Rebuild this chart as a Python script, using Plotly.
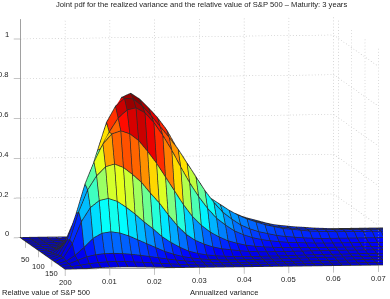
import plotly.graph_objects as go

title_text = "Joint pdf for the realized variance and the relative value of S&amp;P 500 – Maturity: 3 years"
x_label = "Annualized variance"
y_label = "Relative value of S&amp;P 500"

variance = [round(0.002 * c, 3) for c in range(41)]
relative_value = [200, 190, 180, 170, 160, 150, 140, 130, 120, 110, 100, 90, 80, 70, 60, 50, 40, 30]

row_200 = [0,.0005,.002,.004,.006,.007,.008,.008,.007,.006,.005,.004,.003,.002,.002,.001,.001,.001,.001,.001,.001,.001,.001,.001,.001,.001,.001,.001,.001,.001,.001,.001,.001,.001,.001,.001,.001,.001,.001,.001,.001]
row_190 = [0,.003,.01,.017,.022,.025,.026,.025,.023,.02,.017,.014,.011,.008,.006,.004,.003,.002,.002,.002,.002,.002,.002,.002,.003,.003,.003,.003,.003,.004,.004,.004,.004,.004,.005,.005,.005,.005,.005,.005,.005]
row_180 = [0,.008,.025,.042,.052,.057,.058,.056,.052,.046,.04,.033,.026,.02,.015,.011,.008,.006,.005,.004,.004,.004,.004,.005,.005,.006,.006,.007,.007,.008,.008,.009,.009,.01,.01,.011,.011,.011,.011,.011,.011]
row_170 = [0,.012,.04,.08,.125,.15,.157,.15,.135,.115,.095,.075,.055,.04,.028,.02,.015,.011,.009,.008,.008,.008,.008,.009,.009,.01,.011,.012,.013,.014,.014,.015,.015,.016,.016,.016,.016,.016,.016,.016,.016]
row_160 = [0,.02,.09,.2,.27,.305,.315,.3,.27,.235,.195,.16,.12,.09,.065,.045,.033,.025,.02,.017,.015,.014,.014,.014,.015,.015,.016,.017,.018,.019,.02,.02,.02,.021,.021,.021,.022,.022,.022,.022,.022]
row_150 = [0,.02,.1,.24,.35,.42,.465,.478,.46,.425,.385,.33,.28,.22,.165,.12,.09,.07,.055,.045,.04,.034,.03,.028,.027,.027,.027,.028,.028,.029,.029,.03,.03,.03,.03,.03,.03,.03,.03,.03,.03]
row_140 = [0,.015,.09,.22,.37,.48,.57,.62,.635,.62,.585,.53,.47,.4,.33,.26,.2,.155,.12,.095,.075,.062,.052,.046,.042,.04,.038,.037,.036,.036,.036,.036,.036,.036,.036,.037,.037,.037,.037,.037,.037]
row_130 = [0,.01,.065,.17,.31,.43,.535,.62,.69,.73,.74,.715,.665,.6,.525,.44,.36,.29,.23,.18,.145,.115,.095,.08,.07,.063,.058,.054,.052,.05,.049,.048,.048,.048,.048,.048,.048,.048,.048,.048,.048]
row_120 = [0,.006,.04,.12,.24,.38,.52,.66,.74,.78,.775,.74,.69,.635,.58,.52,.45,.38,.31,.25,.2,.165,.135,.115,.1,.09,.08,.074,.07,.066,.064,.062,.062,.062,.062,.062,.062,.062,.062,.062,.062]
row_110 = [0,.003,.02,.07,.16,.28,.42,.56,.7,.775,.795,.765,.72,.67,.61,.53,.44,.36,.3,.26,.23,.2,.175,.155,.14,.125,.115,.105,.1,.095,.09,.088,.086,.085,.085,.085,.085,.085,.085,.085,.085]
row_100 = [0,.001,.01,.035,.09,.17,.28,.42,.57,.67,.735,.745,.72,.675,.61,.52,.415,.35,.3,.26,.225,.195,.17,.15,.13,.12,.11,.103,.098,.093,.09,.088,.087,.086,.085,.085,.085,.085,.085,.085,.085]
row_90 = [0,0,.004,.015,.04,.09,.15,.22,.3,.38,.45,.52,.57,.6,.585,.52,.42,.355,.307,.263,.224,.195,.17,.15,.13,.12,.11,.103,.098,.093,.09,.086,.084,.082,.08,.08,.08,.08,.08,.08,.08]
row_80 = [0,0,.002,.007,.02,.05,.09,.14,.2,.26,.32,.37,.405,.425,.425,.41,.38,.34,.295,.255,.22,.19,.165,.145,.13,.118,.105,.095,.088,.082,.078,.075,.073,.072,.072,.072,.072,.072,.072,.072,.072]
row_70 = [0,0,.001,.003,.008,.02,.04,.065,.095,.13,.165,.2,.225,.245,.255,.255,.245,.23,.21,.19,.17,.15,.13,.115,.1,.09,.082,.076,.072,.068,.065,.064,.063,.063,.063,.063,.063,.063,.063,.063,.063]
row_60 = [0,0,0,.001,.003,.007,.015,.027,.042,.06,.08,.1,.115,.128,.135,.14,.14,.135,.13,.12,.11,.1,.09,.08,.072,.066,.062,.059,.057,.055,.054,.053,.053,.053,.053,.053,.053,.053,.053,.053,.053]
row_50 = [0,0,0,0,.001,.002,.005,.009,.015,.022,.03,.038,.045,.05,.055,.058,.06,.06,.06,.058,.056,.054,.052,.05,.049,.048,.046,.045,.044,.043,.043,.043,.043,.043,.043,.043,.043,.043,.043,.043,.043]
row_40 = [0,0,0,0,0,.001,.001,.003,.005,.007,.01,.012,.015,.017,.02,.022,.024,.025,.026,.027,.027,.028,.028,.028,.029,.029,.03,.03,.03,.03,.03,.03,.03,.03,.03,.03,.03,.03,.03,.03,.03]
row_30 = [0,0,0,0,0,0,0,.001,.001,.002,.003,.003,.004,.005,.005,.006,.006,.007,.007,.008,.008,.008,.009,.009,.01,.011,.012,.013,.014,.015,.016,.017,.018,.018,.018,.018,.018,.018,.018,.018,.018]

pdf_rows = [row_200,row_190,row_180,row_170,row_160,row_150,row_140,row_130,row_120,row_110,row_100,row_90,row_80,row_70,row_60,row_50,row_40,row_30]

x_ticks = [0.01,0.02,0.03,0.04,0.05,0.06,0.07]
y_ticks = [50,100,150,200]
y_label_shift = [-18,-16,-14,-13]
z_ticks = [0,0.2,0.4,0.6,0.8,1]
x_limit, y_back, y_front, z_top = 0.07, 32, 200, 1.1

n_y, n_x = len(relative_value), len(variance)
vx, vy, vz = [], [], []
for r in range(n_y):
    for c in range(n_x):
        vx.append(variance[c]); vy.append(relative_value[r]); vz.append(pdf_rows[r][c])
I, J, K, cell = [], [], [], []
for r in range(n_y-1):
    for c in range(n_x-1):
        a = r*n_x+c; b = a+1; d = a+n_x; e = d+1
        I += [a, a]; J += [b, e]; K += [e, d]
        cell += [pdf_rows[r+1][c]]*2

jet = [[0,'#0000d8'],[.07,'#0000ff'],[.375,'#00ffff'],[.625,'#ffff00'],[.875,'#ff0000'],[1,'#800000']]
fig = go.Figure()
fig.add_trace(go.Mesh3d(x=vx,y=vy,z=vz,i=I,j=J,k=K,intensity=cell,intensitymode='cell',
    colorscale=jet,cmin=0,cmax=0.8,showscale=False,flatshading=True,
    lighting=dict(ambient=1,diffuse=0,specular=0,roughness=1,fresnel=0),hoverinfo='skip'))

# mesh edges, nudged a hair toward the viewer so that they sit in front of the faces
dx, dy, dz = -0.00018, 3.0, 0.0028
lx, ly, lz = [], [], []
for r in range(n_y):
    lx += [v+dx for v in variance]+[None]; ly += [relative_value[r]+dy]*n_x+[None]; lz += [v+dz for v in pdf_rows[r]]+[None]
for c in range(n_x):
    lx += [variance[c]+dx]*n_y+[None]; ly += [v+dy for v in relative_value]+[None]; lz += [pdf_rows[r][c]+dz for r in range(n_y)]+[None]
fig.add_trace(go.Scatter3d(x=lx,y=ly,z=lz,mode='lines',line=dict(color='#2a2a2a',width=1.5),hoverinfo='skip',showlegend=False))

# dotted walls: each wall line is a row of short dashes
def dotted(a, b, n):
    px, py, pz = [], [], []
    for t in range(n):
        for s in (t/n, (t+0.3)/n):
            px.append(a[0]+(b[0]-a[0])*s); py.append(a[1]+(b[1]-a[1])*s); pz.append(a[2]+(b[2]-a[2])*s)
        px.append(None); py.append(None); pz.append(None)
    return px, py, pz
gx, gy, gz = [], [], []
def add(a, b, n):
    p = dotted(a, b, n); gx.extend(p[0]); gy.extend(p[1]); gz.extend(p[2])
for v in z_ticks:
    add((0,y_back,v),(x_limit,y_back,v),100)
    add((x_limit,y_back,v),(x_limit,y_front,v),18)
for v in x_ticks:
    add((v,y_back,0),(v,y_back,z_top),70)
for v in y_ticks:
    add((x_limit,v,0),(x_limit,v,z_top),70)
fig.add_trace(go.Scatter3d(x=gx,y=gy,z=gz,mode='lines',line=dict(color='#b0b0b0',width=1),hoverinfo='skip',showlegend=False))

# solid axis lines
fig.add_trace(go.Scatter3d(x=[0,0,0,x_limit],y=[y_back,y_back,y_front,y_front],z=[z_top,0,0,0],mode='lines',
    line=dict(color='#444444',width=1),hoverinfo='skip',showlegend=False))

# tick marks
tx, ty, tz = [], [], []
for v in x_ticks:
    tx += [v,v,None]; ty += [y_front,y_front,None]; tz += [0,-0.034,None]
for v in y_ticks:
    tx += [0,0,None]; ty += [v,v,None]; tz += [0,-0.034,None]
for v in z_ticks:
    tx += [0,-0.0015,None]; ty += [y_back,y_back,None]; tz += [v,v,None]
fig.add_trace(go.Scatter3d(x=tx,y=ty,z=tz,mode='lines',line=dict(color='#8a8a8a',width=1),hoverinfo='skip',showlegend=False))

font = dict(family='Liberation Sans',size=7.6,color='#222')
tick_anns = []
for v in z_ticks:
    tick_anns.append(dict(x=0,y=y_back,z=v,text=f"{v:g}",showarrow=False,xanchor='right',xshift=-9,yshift=4,font=font))
for v in x_ticks:
    tick_anns.append(dict(x=v,y=y_front,z=0,text=f"{v:g}",showarrow=False,yshift=-13,font=font))
for v, s in zip(y_ticks, y_label_shift):
    tick_anns.append(dict(x=0,y=v,z=0,text=str(v),showarrow=False,yshift=s,font=font))

axis_common = dict(showbackground=False,showgrid=False,zeroline=False,showline=False,ticks='',showticklabels=False,
    title=dict(text=''),showspikes=False)
cx, cz = -0.183, -0.02
fig.update_layout(
    width=390,height=299,margin=dict(l=0,r=0,t=0,b=0),paper_bgcolor='white',showlegend=False,
    title=dict(text=title_text,x=0.517,xanchor='center',y=0.995,yanchor='top',font=font),
    scene=dict(domain=dict(x=[0,383/390],y=[0,1]),aspectmode='manual',aspectratio=dict(x=2.464,y=2.284,z=1.523),
        camera=dict(projection=dict(type='orthographic'),eye=dict(x=-0.4+cx,y=-2.97,z=0.285+cz),center=dict(x=cx,y=0,z=cz),up=dict(x=0,y=0,z=1)),
        xaxis=dict(axis_common,range=[-0.0016,0.08]),
        yaxis=dict(axis_common,range=[203.2,32]),
        zaxis=dict(axis_common,range=[-0.04,1.1]),
        annotations=tick_anns),
    annotations=[dict(text=y_label,x=0,y=0,xref='paper',yref='paper',xanchor='left',yanchor='bottom',showarrow=False,font=font),
                 dict(text=x_label,x=0.575,y=0,xref='paper',yref='paper',xanchor='center',yanchor='bottom',showarrow=False,font=font)])
fig.write_html("out.html", post_script="document.body.style.margin='0';", config=dict(displayModeBar=False))
